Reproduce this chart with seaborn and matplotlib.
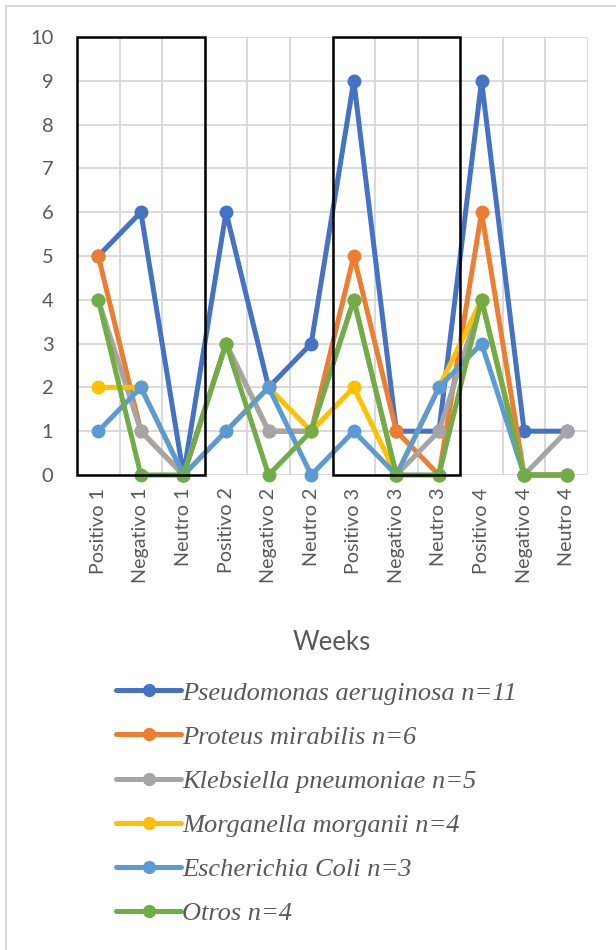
import pandas as pd
import seaborn as sns
import matplotlib.pyplot as plt
from matplotlib.lines import Line2D
from matplotlib.patches import Rectangle

# categories along the x axis
cats = ['Positivo 1', 'Negativo 1', 'Neutro 1',
        'Positivo 2', 'Negativo 2', 'Neutro 2',
        'Positivo 3', 'Negativo 3', 'Neutro 3',
        'Positivo 4', 'Negativo 4', 'Neutro 4']

# counts per species
pseudomonas = [5, 6, 0, 6, 2, 3, 9, 1, 1, 9, 1, 1]
proteus     = [5, 1, 0, 3, 1, 1, 5, 1, 0, 6, 0, 0]
klebsiella  = [4, 1, 0, 3, 1, 1, 4, 0, 1, 4, 0, 1]
morganella  = [2, 2, 0, 1, 2, 1, 2, 0, 2, 4, 0, 0]
ecoli       = [1, 2, 0, 1, 2, 0, 1, 0, 2, 3, 0, 0]
otros       = [4, 0, 0, 3, 0, 1, 4, 0, 0, 4, 0, 0]

labels = ['Pseudomonas aeruginosa n=11', 'Proteus mirabilis n=6',
          'Klebsiella pneumoniae n=5', 'Morganella morganii n=4',
          'Escherichia Coli n=3', 'Otros n=4']
colors = ['#4472C4', '#ED7D31', '#A5A5A5', '#FFC000', '#5B9BD5', '#70AD47']

series = [pseudomonas, proteus, klebsiella, morganella, ecoli, otros]
rows = []
for lab, vals in zip(labels, series):
    for c, v in zip(cats, vals):
        rows.append({'cat': c, 'val': v, 'species': lab})
df = pd.DataFrame(rows)

sns.set_style('white')
plt.rcParams['font.family'] = ['Lato', 'DejaVu Sans']
txt = '#595959'

fig = plt.figure(figsize=(6.16, 9.5), dpi=100)
ax = fig.add_axes([77/616, 1 - 475/950, (588-77)/616, (475-37)/950])

sns.lineplot(data=df, x='cat', y='val', hue='species', palette=colors,
             hue_order=labels, sort=False, marker='o', markersize=10,
             markeredgewidth=0, linewidth=3.6, ax=ax, legend=False,
             clip_on=False, zorder=3)

ax.set_xlim(-0.5, 11.5)
ax.set_ylim(0, 10)
ax.set_yticks(range(0, 11))
ax.set_xticks(range(len(cats)))
ax.set_xticklabels(cats, rotation=90, color=txt, fontsize=14.2)
ax.tick_params(axis='y', labelcolor=txt, labelsize=14.5, length=0, pad=17)
ax.tick_params(axis='x', length=0, pad=9)

# grid: horizontal on values, vertical on category boundaries
for y in range(0, 11):
    ax.axhline(y, color='#d9d9d9', lw=1.4, zorder=0)
for xb in range(0, 13):
    ax.axvline(xb - 0.5, color='#d9d9d9', lw=1.4, zorder=0)
for s in ax.spines.values():
    s.set_visible(False)

# highlight boxes for weeks 1 and 3
for x0 in (-0.5, 5.5):
    ax.add_patch(Rectangle((x0, 0), 3, 10, fill=False, edgecolor='black',
                           lw=1.8, zorder=5, clip_on=False))

ax.set_xlabel('Weeks', color=txt, fontsize=18.5)
ax.xaxis.set_label_coords((332 - 77) / 511, (475 - 642) / 438)
ax.xaxis.label.set_va('center')
ax.set_ylabel('')

handles = [Line2D([0], [0], color=c, lw=3.6, marker='o', markersize=9.5,
                  markeredgewidth=0) for c in colors]
leg = fig.legend(handles, labels, loc='upper left',
                 bbox_to_anchor=(103/616, 1 - 668/950), frameon=False,
                 handlelength=2.45, handletextpad=0.06, labelspacing=0.78,
                 borderpad=0,
                 prop={'family': 'Liberation Serif', 'style': 'italic', 'size': 19})
for t in leg.get_texts():
    t.set_color(txt)

# chart area border (top and left visible)
fig.add_artist(Line2D([6/616, 1], [1 - 6/950, 1 - 6/950], color='#d9d9d9', lw=1.5))
fig.add_artist(Line2D([6/616, 6/616], [0, 1 - 6/950], color='#d9d9d9', lw=1.5))

fig.savefig('out.png', dpi=100)
